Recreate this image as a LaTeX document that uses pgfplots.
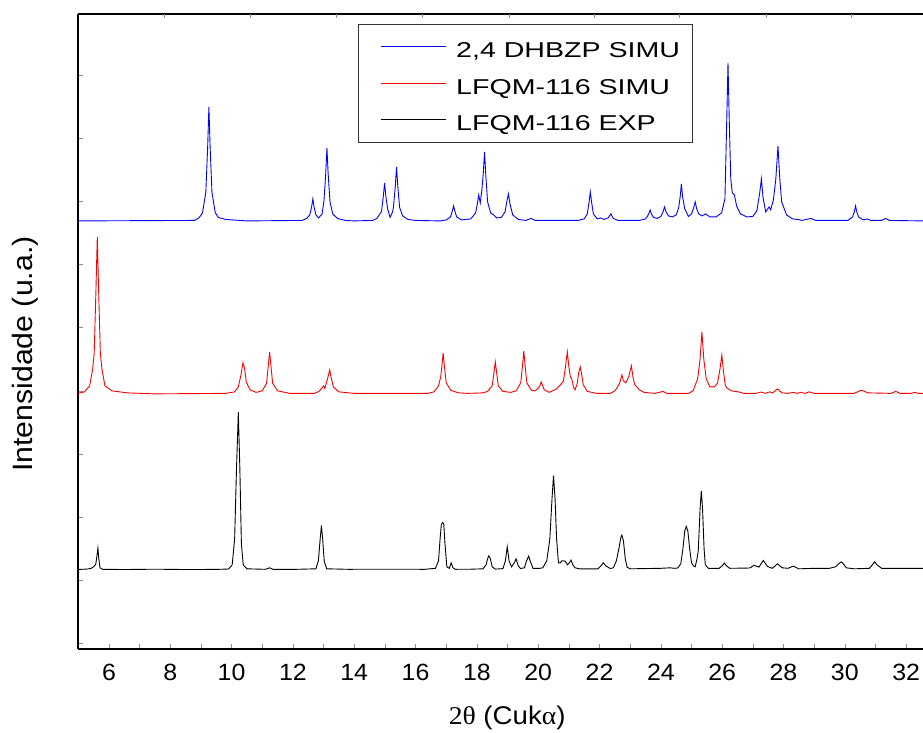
\documentclass[border=0pt]{standalone}
\usepackage{fontspec}
\setmainfont{Liberation Sans}
\newfontfamily\tickfont[FakeStretch=1.06]{Liberation Sans}
\newfontfamily\legfont[FakeStretch=1.33]{Liberation Sans}
\newfontfamily\labfont[FakeStretch=1.08]{Liberation Sans}
\newfontfamily\labserif[FakeStretch=1.08]{Liberation Serif}
\usepackage{pgfplots}
\pgfplotsset{compat=1.18}
\newcommand{\lstrut}{\rule[-4.7pt]{0pt}{27.9pt}}
\begin{document}
\begin{tikzpicture}
\begin{axis}[name=ax, scale only axis, width=845pt, height=635pt,
  xmin=5, xmax=32.55, ymin=0, ymax=635,
  axis x line*=box, axis y line*=left,
  x axis line style={-}, y axis line style={-},
  axis line style={line width=1.6pt, black},
  xtick={6,8,...,32}, minor xtick={5,7,...,31},
  xtick pos=left, ytick pos=left,
  ytick={5.2,68.4,...,575}, yticklabels={},
  tick align=inside, major tick length=4.5pt, minor tick length=4.5pt,
  every tick/.style={black!45, line width=0.4pt},
  /pgf/number format/assume math mode=true,
  xticklabel style={font=\tickfont\fontsize{23.5}{28}\selectfont, inner sep=0pt, yshift=-15pt},
  xlabel={{\labserif 2θ} (Cuk{\labserif α})},
  xlabel style={at={(axis description cs:0.5077,0)}, anchor=north, inner sep=0pt, yshift=-57pt, font=\labfont\fontsize{25.6}{30}\selectfont},
  ylabel={Intensidade (u.a.)},
  ylabel style={at={(axis description cs:-0.0473,0.4643)}, anchor=south, inner sep=0pt, font=\labfont\fontsize{28}{32}\selectfont},
  legend cell align=left,
  legend image code/.code={\draw[#1,line width=1pt] (10pt,0pt) -- (75pt,0pt); \path (0pt,0pt);},
  legend style={at={(axis description cs:0.331,0.984)}, anchor=north west, draw=black!80, line width=0.8pt,
    font=\legfont\fontsize{21.5}{26}\selectfont, inner xsep=12pt, inner ysep=10pt, row sep=11.8pt, column sep=10pt,
    nodes={inner sep=0pt}},
  every axis plot/.append style={line width=0.9pt},
]
\addplot[color=blue] coordinates {
(5,428) (8.8,428.5) (8.95,431.5) (9.05,436) (9.16,456.5) (9.22,502) (9.26,542) (9.30,502) (9.36,456.5) (9.47,436) (9.57,431.5) (9.8,429.5) (10.5,428)
(12.3,428.5) (12.45,430.5) (12.55,434) (12.61,442) (12.65,450) (12.69,442) (12.75,434) (12.84,431) (12.95,435) (13.01,447) (13.07,475) (13.11,501) (13.15,475) (13.21,447) (13.3,435) (13.45,430.5) (13.7,428.5) (14.0,428)
(14.6,428.5) (14.74,430.5) (14.89,437.5) (14.95,453) (14.99,466) (15.03,453) (15.09,440) (15.17,431.5) (15.25,437) (15.28,442) (15.34,463) (15.38,482) (15.42,463) (15.48,441.5) (15.58,433) (15.75,429.5) (16.0,428.5) (16.8,428)
(17.0,429) (17.14,432) (17.20,438) (17.24,443) (17.28,438) (17.34,432) (17.5,429) (17.8,430) (17.96,436) (18.02,446) (18.06,454) (18.11,446) (18.16,458) (18.21,476) (18.25,497) (18.29,474) (18.35,447) (18.45,436) (18.55,434) (18.65,431) (18.8,431.5) (18.92,437) (18.98,448) (19.03,455) (19.08,445) (19.17,434) (19.35,429.5) (19.6,428.5) (19.77,430.5) (19.9,428.5)
(21.3,428.5) (21.5,430) (21.6,435) (21.66,447) (21.70,457) (21.74,447) (21.8,435) (21.93,430) (22.03,431) (22.15,429.5) (22.28,431) (22.37,435) (22.45,430.5) (22.6,428.5)
(23.3,428.5) (23.5,430) (23.57,433) (23.61,435.5) (23.65,439) (23.69,435) (23.76,431.5) (23.88,430.5) (24.0,432.5) (24.07,437) (24.12,442) (24.17,437) (24.25,433) (24.38,432) (24.5,434) (24.58,441) (24.63,452) (24.67,465) (24.71,452) (24.78,440) (24.9,432.5) (25.0,435) (25.07,441) (25.12,447) (25.17,440) (25.24,435) (25.34,433) (25.46,435) (25.6,432) (25.8,432) (25.98,436) (26.09,450) (26.15,530) (26.19,586) (26.23,530) (26.28,470) (26.33,456) (26.40,454) (26.47,443) (26.6,435) (26.8,432)
(27.0,432.5) (27.13,438) (27.22,455) (27.28,470) (27.33,452) (27.42,437) (27.53,442) (27.58,439) (27.67,449) (27.75,470) (27.82,503) (27.88,470) (27.94,447) (27.99,443) (28.1,434) (28.3,430) (28.47,429.5) (28.6,428.5) (28.89,430.5) (29.05,428.5)
(30.1,428.5) (30.25,432) (30.31,437) (30.35,443) (30.39,437) (30.45,432) (30.6,429) (30.73,430) (30.85,428.5) (31.2,428.5) (31.33,430.5) (31.45,428.5) (32.55,428)
};
\addlegendentry{\lstrut 2,4 DHBZP SIMU}
\addplot[color=red] coordinates {
(5,255.5) (5.2,257) (5.37,263) (5.47,280) (5.52,296) (5.58,363) (5.62,412) (5.66,363) (5.72,296) (5.77,280) (5.87,263) (6.1,258) (6.6,256) (7.5,255) (9.8,255.5)
(10.1,257) (10.22,262) (10.3,273) (10.37,286) (10.42,281) (10.48,267) (10.6,259) (10.8,256.5) (11.0,258) (11.14,265.5) (11.2,284) (11.24,297) (11.28,284) (11.34,265.5) (11.5,258) (11.9,255.5)
(12.7,255.5) (12.85,257.5) (12.95,261) (13.0,263) (13.04,260.5) (13.13,270) (13.20,279) (13.25,271) (13.32,262) (13.5,257) (14,255.5)
(16.4,255.5) (16.6,257) (16.75,263) (16.82,272) (16.86,283) (16.90,296) (16.94,283) (17.0,266) (17.15,258.5) (17.4,256) (17.7,255.5)
(18.2,256) (18.35,257.5) (18.5,263) (18.56,277) (18.60,287) (18.64,277) (18.7,263) (18.85,257.5) (19.1,256.5) (19.28,258) (19.43,266) (19.49,284) (19.53,298) (19.57,284) (19.63,266) (19.78,258.5) (19.9,258)
(20.0,260.5) (20.06,263.5) (20.10,267) (20.14,263.5) (20.2,259) (20.36,256.5) (20.6,260) (20.75,265) (20.82,267.5) (20.88,280) (20.95,297) (21.0,282) (21.05,272) (21.09,270.5) (21.15,262) (21.2,259) (21.27,265) (21.32,276) (21.37,282) (21.41,276) (21.47,264) (21.6,257.5) (21.9,255.5)
(22.35,255.5) (22.5,258) (22.59,262) (22.66,266) (22.73,274) (22.78,268) (22.86,266) (22.95,272) (23.04,283) (23.09,272) (23.15,264) (23.22,262) (23.3,259) (23.45,256.5) (23.8,255.5) (23.95,256.5) (24.06,257.5) (24.2,255.5)
(24.9,255.5) (25.05,258) (25.2,270) (25.28,290) (25.34,317) (25.4,290) (25.48,270) (25.6,262) (25.75,262) (25.85,266) (25.93,280) (25.99,294) (26.04,278) (26.1,264) (26.15,261) (26.3,258) (26.53,257) (26.7,255.5)
(27.1,255.5) (27.27,256.8) (27.4,255.5) (27.55,257) (27.65,256) (27.80,260) (27.95,256) (28.15,255.5) (28.32,256.5) (28.45,255.5) (28.56,256.5) (28.7,255.5) (28.83,257) (29.0,255.5)
(30.3,255.5) (30.45,257.5) (30.52,258.5) (30.6,258) (30.75,256) (31.5,255.5) (31.66,257.5) (31.8,255.5) (32.15,255.5) (32.28,256.5) (32.4,255.5) (32.55,255.5)
};
\addlegendentry{\lstrut LFQM-116 SIMU}
\addplot[color=black] coordinates {
(5,79.3) (5.3,79.8) (5.42,80.5) (5.5,82) (5.57,84.5) (5.61,93) (5.64,100.7) (5.67,90) (5.71,81) (5.8,79.5) (6.5,79.3) (7.5,79.6) (8.5,79.3) (9.5,79.4)
(9.9,79.8) (10.02,84) (10.1,110) (10.16,180) (10.22,236.7) (10.27,180) (10.32,105) (10.38,84) (10.5,80) (11.1,79.5) (11.24,81) (11.35,79.5) (12.0,79.4)
(12.75,80) (12.83,88) (12.89,110) (12.93,123.3) (12.97,110) (13.02,88) (13.1,80) (13.8,79.5) (15,79.6) (16.3,79.5)
(16.65,80.5) (16.75,88) (16.8,110) (16.84,124) (16.88,126.3) (16.92,125) (16.96,105) (17.02,82) (17.1,80.5) (17.16,86) (17.22,81) (17.3,79.5) (17.8,79.6)
(18.2,80) (18.3,84) (18.36,91) (18.39,93) (18.44,90) (18.5,82) (18.6,79.7) (18.85,80.2) (18.93,88) (18.99,102) (19.05,88) (19.13,82) (19.22,86) (19.28,90) (19.35,83) (19.42,80.3) (19.55,81) (19.62,88) (19.69,92.7) (19.75,87) (19.83,80.5) (20.05,80.5)
(20.15,81) (20.28,88) (20.38,110) (20.45,150) (20.50,173.3) (20.55,150) (20.6,110) (20.66,86) (20.72,86) (20.77,88) (20.83,88) (20.89,87.5) (20.95,84) (21.02,86) (21.07,88.7) (21.13,84) (21.2,81) (21.35,80)
(21.95,80) (22.05,83) (22.12,86) (22.2,83) (22.35,80.3) (22.45,81) (22.55,88) (22.63,100) (22.7,112) (22.73,113.7) (22.78,108) (22.84,90) (22.9,81.5) (23.0,80) (23.6,80.3) (24.0,80.5) (24.3,81) (24.45,80.5)
(24.55,80.8) (24.65,85) (24.72,100) (24.78,118) (24.83,122.3) (24.88,118) (24.94,100) (25.0,86) (25.06,83) (25.12,82) (25.18,90) (25.22,98) (25.28,140) (25.32,158) (25.36,140) (25.41,100) (25.45,84) (25.55,80.5)
(25.9,80.5) (26.0,83) (26.07,85.7) (26.14,83) (26.25,80.5) (26.9,80.8) (27.04,83.5) (27.2,81.7) (27.34,88.3) (27.48,82.3) (27.64,80.5) (27.80,85) (27.96,81) (28.15,80.5) (28.32,82.7) (28.5,80)
(29.0,80.5) (29.5,80.5) (29.7,82) (29.8,85) (29.88,87) (29.95,85) (30.05,81) (30.3,80) (30.8,80.5) (30.9,84) (30.97,87) (31.05,84) (31.2,80.5) (32.55,80.5)
};
\addlegendentry{\lstrut LFQM-116 EXP}
\end{axis}
\begin{axis}[at={(ax.south west)}, anchor=south west, scale only axis, width=845pt, height=635pt,
  xmin=5, xmax=32.55, ymin=0, ymax=635, axis line style={draw=none},
  xtick={7.80,10.61,13.41,16.22,19.05,21.84,24.61,27.42,30.22}, xticklabels={}, xtick pos=right,
  ytick=\empty, tick align=inside, major tick length=4.5pt,
  every tick/.style={black!45, line width=0.4pt}]
\end{axis}
\pgfresetboundingbox
\path ([xshift=-78.3pt,yshift=-84pt]ax.south west) rectangle ([yshift=14pt]ax.north east);
\end{tikzpicture}
\end{document}
